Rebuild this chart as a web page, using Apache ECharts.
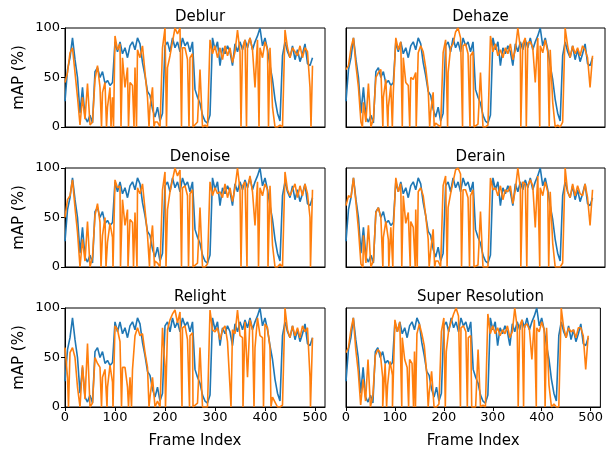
<!DOCTYPE html>
<html>
<head>
<meta charset="utf-8">
<script src="https://cdn.jsdelivr.net/npm/echarts@6/dist/echarts.min.js"></script>
<style>
  html, body { margin: 0; padding: 0; background: #fff; }
  #chart { width: 606px; height: 452px; }
</style>
</head>
<body>
<div id="chart"></div>
<script>
// values sampled every 5 frames (0..495); *Drops = short dips as [frame, mAP]
var baseline = [26, 58, 70, 90, 68, 50, 14, 40, 10, 5, 12, 4, 56, 60, 50, 56, 44, 47, 42, 45,
	86, 76, 86, 74, 80, 70, 82, 86, 78, 90, 84, 65, 52, 36, 32, 18, 10, 20, 6, 14,
	82, 86, 76, 90, 80, 86, 76, 90, 82, 86, 76, 86, 38, 30, 24, 12, 6, 4, 12, 90,
	78, 86, 62, 80, 74, 82, 76, 62, 84, 76, 86, 78, 88, 80, 90, 78, 86, 92, 100, 82,
	90, 78, 62, 48, 28, 14, 6, 72, 86, 76, 70, 82, 68, 78, 66, 74, 84, 64, 62, 70];

var deblur = [45, 55, 75, 80, 55, 30, 2, 30, 8, 44, 2, 5, 48, 62, 40, 35, 45, 20, 40, 30,
	92, 78, 84, 70, 40, 60, 45, 42, 60, 78, 70, 82, 55, 30, 20, 40, 5, 5, 0, 80,
	100, 60, 72, 86, 100, 94, 100, 80, 80, 68, 70, 74, 0, 5, 58, 0, 2, 0, 88, 74,
	82, 70, 80, 68, 82, 72, 80, 65, 76, 98, 76, 80, 88, 82, 90, 78, 40, 88, 80, 70,
	86, 78, 80, 20, 0, 0, 2, 0, 98, 80, 70, 80, 76, 72, 82, 70, 80, 76, 40, 62];
var deblurDrops = [[31, 0], [51, 0], [73, 0], [83, 0], [92, 0], [97, 0], [112, 0], [127, 0],
	[138, 0], [143, 0], [168, 0], [178, 0], [203, 0], [233, 0], [248, 0], [256, 0],
	[352, 0], [363, 0], [388, 0], [407, 0], [492, 0]];

var dehaze = [58, 62, 80, 90, 62, 40, 5, 25, 5, 44, 0, 8, 50, 55, 58, 30, 48, 20, 42, 35,
	90, 78, 86, 70, 45, 42, 50, 48, 55, 75, 82, 76, 60, 38, 15, 35, 4, 2, 0, 75,
	88, 55, 80, 84, 96, 100, 90, 82, 84, 74, 72, 76, 0, 3, 55, 0, 0, 2, 92, 76,
	84, 72, 78, 70, 80, 74, 84, 68, 78, 100, 80, 84, 90, 85, 86, 80, 45, 90, 82, 75,
	88, 76, 78, 25, 0, 2, 0, 5, 100, 82, 70, 82, 74, 80, 72, 82, 78, 70, 40, 72];
var dehazeDrops = [[33, 0], [52, 0], [74, 0], [84, 0], [93, 0], [113, 0], [128, 0], [141, 0],
	[168, 0], [177, 0], [204, 0], [234, 0], [249, 0], [257, 0], [351, 0], [362, 0],
	[389, 0], [408, 0]];

var denoise = [50, 68, 72, 88, 60, 35, 0, 28, 6, 46, 0, 10, 52, 64, 45, 32, 50, 25, 44, 30,
	88, 80, 82, 68, 42, 58, 48, 45, 55, 80, 74, 84, 58, 32, 18, 42, 6, 4, 0, 78,
	96, 58, 76, 88, 100, 92, 98, 80, 82, 72, 74, 78, 0, 4, 60, 0, 0, 3, 86, 72,
	80, 74, 76, 70, 84, 70, 80, 66, 80, 100, 78, 82, 86, 80, 92, 76, 42, 86, 80, 72,
	84, 78, 82, 22, 0, 0, 3, 0, 96, 78, 72, 78, 84, 70, 82, 72, 84, 74, 50, 78];
var denoiseDrops = [[32, 0], [53, 0], [72, 0], [82, 0], [96, 0], [111, 0], [126, 0], [137, 0],
	[144, 0], [169, 0], [179, 0], [202, 0], [233, 0], [247, 0], [256, 0], [352, 0],
	[364, 0], [387, 0], [406, 0], [491, 0]];

var derain = [62, 72, 70, 90, 65, 38, 3, 32, 4, 42, 0, 6, 55, 60, 50, 30, 46, 28, 40, 36,
	90, 76, 84, 72, 44, 55, 46, 40, 58, 76, 80, 72, 52, 28, 16, 38, 6, 6, 0, 82,
	92, 60, 74, 86, 98, 100, 94, 78, 78, 70, 72, 78, 0, 2, 56, 0, 0, 0, 90, 78,
	80, 72, 82, 68, 78, 76, 82, 64, 78, 100, 80, 86, 84, 82, 88, 82, 40, 92, 80, 72,
	86, 76, 76, 24, 0, 0, 0, 4, 100, 76, 70, 84, 72, 82, 74, 72, 84, 70, 42, 78];
var derainDrops = [[34, 0], [51, 0], [74, 0], [86, 0], [94, 0], [112, 0], [129, 0], [139, 0],
	[143, 0], [167, 0], [178, 0], [203, 0], [232, 0], [248, 0], [257, 0], [351, 0],
	[363, 0], [389, 0], [407, 0]];

var relight = [60, 30, 55, 60, 50, 20, 0, 42, 8, 64, 0, 4, 50, 44, 40, 30, 38, 20, 42, 25,
	82, 78, 66, 40, 40, 20, 30, 38, 72, 80, 72, 74, 55, 40, 10, 30, 0, 6, 0, 80,
	40, 78, 88, 94, 98, 85, 96, 80, 82, 68, 72, 75, 0, 4, 60, 0, 0, 0, 98, 78,
	76, 80, 68, 78, 82, 66, 20, 78, 74, 98, 72, 70, 86, 30, 88, 78, 60, 90, 72, 70,
	84, 80, 60, 10, 5, 0, 0, 2, 100, 78, 70, 82, 72, 80, 70, 82, 76, 80, 30, 70];
var relightDrops = [[7, 0], [33, 0], [53, 0], [73, 0], [84, 0], [96, 0], [113, 0], [127, 0],
	[133, 0], [168, 0], [201, 0], [234, 0], [249, 0], [256, 0], [332, 0], [356, 0],
	[378, 0], [397, 0], [412, 0], [491, 0]];

var superRes = [55, 60, 78, 90, 58, 36, 2, 28, 6, 48, 0, 12, 52, 58, 55, 30, 44, 22, 46, 32,
	88, 76, 86, 70, 48, 40, 48, 44, 56, 74, 84, 74, 62, 34, 14, 36, 0, 0, 3, 76,
	90, 56, 78, 86, 94, 100, 92, 80, 82, 76, 70, 72, 0, 0, 58, 0, 2, 0, 94, 74,
	82, 74, 80, 72, 78, 74, 82, 70, 76, 100, 80, 82, 88, 82, 84, 78, 48, 88, 80, 76,
	86, 78, 80, 22, 0, 3, 0, 0, 100, 80, 70, 80, 76, 78, 70, 80, 80, 72, 38, 72];
var superResDrops = [[32, 0], [51, 0], [75, 0], [83, 0], [95, 0], [114, 0], [128, 0], [138, 0],
	[142, 0], [168, 0], [203, 0], [234, 0], [248, 0], [257, 0], [352, 0], [363, 0],
	[389, 0], [407, 0]];

var panelNames = ['Deblur', 'Dehaze', 'Denoise', 'Derain', 'Relight', 'Super Resolution'];
var panelData = [deblur, dehaze, denoise, derain, relight, superRes];
var panelDrops = [deblurDrops, dehazeDrops, denoiseDrops, derainDrops, relightDrops, superResDrops];
var xTicks = [0, 100, 200, 300, 400, 500];

var frames = baseline.map(function(v, i) { return i * 5; });

function pairs(arr, extra) {
	var pts = arr.map(function(v, i) { return [frames[i], v]; });
	if (extra) {
		pts = pts.concat(extra);
		pts.sort(function(a, b) { return a[0] - b[0]; });
	}
	return pts;
}

var chart = echarts.init(document.getElementById('chart'), null, {renderer: 'canvas'});

var lefts = [65, 346], widths = [260, 259];
var tops = [28, 168, 308];
var font = 'DejaVu Sans';

var grids = [], xAxes = [], yAxes = [], titles = [], series = [];

for (var k = 0; k < 6; k++) {
	var col = k % 2, row = Math.floor(k / 2);
	var bottomRow = row === 2, leftCol = col === 0;

	grids.push({
		left: lefts[col], top: tops[row], width: widths[col], height: 99,
		show: true, borderColor: '#000', borderWidth: 1, backgroundColor: 'transparent'
	});

	titles.push({
		text: panelNames[k],
		left: lefts[col] + widths[col] / 2,
		top: tops[row] - 23,
		textAlign: 'center',
		textStyle: {fontFamily: font, fontSize: 15, fontWeight: 'normal', color: '#000'}
	});

	xAxes.push({
		type: 'value', gridIndex: k, min: 0, max: 520,
		name: bottomRow ? 'Frame Index' : '',
		nameLocation: 'middle', nameGap: 27,
		nameTextStyle: {fontFamily: font, fontSize: 15, color: '#000'},
		axisLine: {show: true, onZero: false, lineStyle: {color: '#000', width: 1}},
		axisTick: {show: bottomRow, length: 4, customValues: xTicks, lineStyle: {color: '#000'}},
		axisLabel: {show: bottomRow, customValues: xTicks, margin: 4,
			fontFamily: font, fontSize: 13, color: '#000'},
		splitLine: {show: false}
	});

	yAxes.push({
		type: 'value', gridIndex: k, min: 0, max: 100, interval: 50,
		name: leftCol ? 'mAP (%)' : '',
		nameLocation: 'middle', nameGap: 38,
		nameTextStyle: {fontFamily: font, fontSize: 15, color: '#000'},
		axisLine: {show: true, lineStyle: {color: '#000', width: 1}},
		axisTick: {show: leftCol, length: 4, lineStyle: {color: '#000'}},
		axisLabel: {show: leftCol, margin: 5, fontFamily: font, fontSize: 13, color: '#000'},
		splitLine: {show: false}
	});

	series.push({
		type: 'line', xAxisIndex: k, yAxisIndex: k,
		data: pairs(baseline), showSymbol: false, animation: false,
		lineStyle: {color: '#1f77b4', width: 1.6}
	});
	series.push({
		type: 'line', xAxisIndex: k, yAxisIndex: k,
		data: pairs(panelData[k], panelDrops[k]), showSymbol: false, animation: false,
		lineStyle: {color: '#ff7f0e', width: 1.6}
	});
}

chart.setOption({
	backgroundColor: '#fff',
	animation: false,
	title: titles,
	grid: grids,
	xAxis: xAxes,
	yAxis: yAxes,
	series: series
});
</script>
</body>
</html>
